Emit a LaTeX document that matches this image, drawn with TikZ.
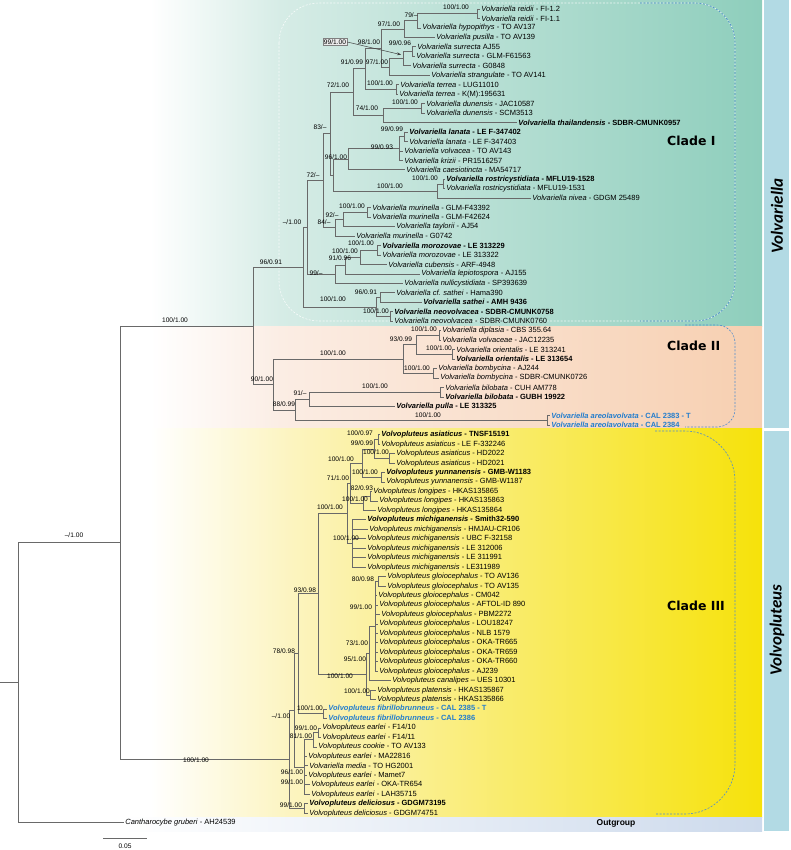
\documentclass[tikz,border=0pt]{standalone}
\usepackage{fontspec}
\setmainfont{Liberation Sans}
\newfontfamily\cladefont{DejaVu Sans}
\newfontfamily\colfont{Carlito}
\usetikzlibrary{calc,arrows.meta}
\definecolor{tealR}{RGB}{142,206,188}
\definecolor{tealL}{RGB}{214,236,230}
\definecolor{peachR}{RGB}{247,207,176}
\definecolor{peachL}{RGB}{251,237,228}
\definecolor{yelR}{RGB}{246,226,10}
\definecolor{yelL}{RGB}{252,244,192}
\definecolor{outR}{RGB}{205,218,236}
\definecolor{colbox}{RGB}{178,218,228}
\definecolor{treegray}{RGB}{105,105,105}
\definecolor{leafblue}{RGB}{35,125,205}
\definecolor{dashblue}{RGB}{80,140,205}
\tikzset{
 tl/.style={draw=treegray, line width=0.7pt},
 lfs/.style={anchor=west, inner sep=1.2pt, font=\fontsize{7.5}{8}\selectfont},
 sl/.style={inner sep=0pt, font=\fontsize{6.6}{7}\selectfont},
 dashb/.style={draw=dashblue, line width=0.6pt, dash pattern=on 2pt off 1.5pt},
 dashw/.style={draw=white, line width=0.6pt, dash pattern=on 2pt off 1.5pt, opacity=0.8},
 cladelab/.style={anchor=west, inner sep=0pt, font=\cladefont\bfseries\fontsize{12.5}{13}\selectfont},
 collab/.style={inner sep=0pt, rotate=90, font=\colfont\bfseries\itshape\fontsize{17}{18}\selectfont},
}
\newcommand{\leafx}[3]{\coordinate (t#1) at (#2,{9+(#1-1)*9.46}); \node[lfs] (L#1) at (t#1) {#3};}
\newcommand{\nd}[5]{%
 \path (#3) -- (#4) coordinate[pos=0.5] (#1-mid);
 \coordinate (#1-xx) at (#2,0);
 \coordinate (#1) at (#1-mid -| #1-xx);
 \draw[tl] (#1 |- #3) -- (#1 |- #4);
 \foreach \c in {#5} {\draw[tl] (#1 |- \c) -- (\c);}
}
\newcommand{\sv}[2]{\textit{#1} - #2}
\newcommand{\bsv}[2]{\textbf{\textit{#1} - #2}}
\newcommand{\usv}[2]{\textcolor{leafblue}{\textbf{\textit{#1} - #2}}}
\begin{document}
\begin{tikzpicture}[x=1pt,y=-1pt]
\useasboundingbox (0,0) rectangle (790,850);
% backgrounds
\shade[left color=white, right color=tealL] (150,0) rectangle (281,326);
\shade[left color=tealL, right color=tealR] (280,0) rectangle (762,326);
\shade[left color=white, right color=peachL] (150,326) rectangle (281,428);
\shade[left color=peachL, right color=peachR] (280,326) rectangle (762,428);
\shade[left color=white, right color=yelL] (150,428) rectangle (291,817);
\shade[left color=yelL, right color=yelR] (290,428) rectangle (762,817);
\shade[left color=white, right color=outR] (120,817) rectangle (762,831);
\fill[colbox] (764,0) rectangle (789,428);
\fill[colbox] (764,431) rectangle (789,831);
\node[collab] (cV) at (777,216) {Volvariella};
\node[collab] (cP) at (777,630) {Volvopluteus};
% clade boxes
\draw[dashw, rounded corners=40pt] (279,3) rectangle (735,321);
\draw[dashb, rounded corners=40pt] (640,3) -- (735,3) -- (735,321) -- (640,321);
\draw[dashb, rounded corners=18pt] (685,325) -- (735,325) -- (735,427) -- (685,427);
\draw[dashb, rounded corners=50pt] (655,431) -- (735,431) -- (735,814) -- (655,814);
\node[cladelab] (c1) at (667,141) {Clade I};
\node[cladelab] (c2) at (667,346) {Clade II};
\node[cladelab] (c3) at (667,606) {Clade III};
\node[anchor=center, inner sep=0pt, font=\bfseries\fontsize{8.5}{9}\selectfont] (og) at (616,823.5) {Outgroup};
% leaves
\leafx{1}{480}{\sv{Volvariella reidii}{FI-1.2}}
\leafx{2}{480}{\sv{Volvariella reidii}{FI-1.1}}
\leafx{3}{421}{\sv{Volvariella hypopithys}{TO AV137}}
\leafx{4}{435}{\sv{Volvariella pusilla}{TO AV139}}
\leafx{5}{416}{\textit{Volvariella surrecta} AJ55}
\leafx{6}{415}{\sv{Volvariella surrecta}{GLM-F61563}}
\leafx{7}{411}{\sv{Volvariella surrecta}{G0848}}
\leafx{8}{430}{\sv{Volvariella strangulate}{TO AV141}}
\leafx{9}{399}{\sv{Volvariella terrea}{LUG11010}}
\leafx{10}{398}{\sv{Volvariella terrea}{K(M):195631}}
\leafx{11}{425}{\sv{Volvariella dunensis}{JAC10587}}
\leafx{12}{425}{\sv{Volvariella dunensis}{SCM3513}}
\leafx{13}{517}{\bsv{Volvariella thailandensis}{SDBR-CMUNK0957}}
\leafx{14}{408}{\bsv{Volvariella lanata}{LE F-347402}}
\leafx{15}{408}{\sv{Volvariella lanata}{LE F-347403}}
\leafx{16}{403}{\sv{Volvariella volvacea}{TO AV143}}
\leafx{17}{403}{\sv{Volvariella krizii}{PR1516257}}
\leafx{18}{405}{\sv{Volvariella caesiotincta}{MA54717}}
\leafx{19}{445}{\bsv{Volvariella rostricystidiata}{MFLU19-1528}}
\leafx{20}{445}{\sv{Volvariella rostricystidiata}{MFLU19-1531}}
\leafx{21}{531}{\sv{Volvariella nivea}{GDGM 25489}}
\leafx{22}{371}{\sv{Volvariella murinella}{GLM-F43392}}
\leafx{23}{371}{\sv{Volvariella murinella}{GLM-F42624}}
\leafx{24}{395}{\sv{Volvariella taylorii}{AJ54}}
\leafx{25}{355}{\sv{Volvariella murinella}{G0742}}
\leafx{26}{381}{\bsv{Volvariella morozovae}{LE 313229}}
\leafx{27}{381}{\sv{Volvariella morozovae}{LE 313322}}
\leafx{28}{387}{\sv{Volvariella cubensis}{ARF-4948}}
\leafx{29}{420}{\sv{Volvariella lepiotospora}{AJ155}}
\leafx{30}{403}{\sv{Volvariella nullicystidiata}{SP393639}}
\leafx{31}{395}{\sv{Volvariella cf. sathei}{Hama390}}
\leafx{32}{422}{\bsv{Volvariella sathei}{AMH 9436}}
\leafx{33}{393}{\bsv{Volvariella neovolvacea}{SDBR-CMUNK0758}}
\leafx{34}{393}{\sv{Volvariella neovolvacea}{SDBR-CMUNK0760}}
\leafx{35}{441}{\sv{Volvariella diplasia}{CBS 355.64}}
\leafx{36}{441}{\sv{Volvariella volvaceae}{JAC12235}}
\leafx{37}{455}{\sv{Volvariella orientalis}{LE 313241}}
\leafx{38}{455}{\bsv{Volvariella orientalis}{LE 313654}}
\leafx{39}{437}{\sv{Volvariella bombycina}{AJ244}}
\leafx{40}{439}{\sv{Volvariella bombycina}{SDBR-CMUNK0726}}
\leafx{41}{444}{\sv{Volvariella bilobata}{CUH AM778}}
\leafx{42}{444}{\bsv{Volvariella bilobata}{GUBH 19922}}
\leafx{43}{395}{\bsv{Volvariella pulla}{LE 313325}}
\leafx{44}{550}{\usv{Volvariella areolavolvata}{CAL 2383 - T}}
\leafx{45}{550}{\usv{Volvariella areolavolvata}{CAL 2384}}
\leafx{46}{380}{\bsv{Volvopluteus asiaticus}{TNSF15191}}
\leafx{47}{380}{\sv{Volvopluteus asiaticus}{LE F-332246}}
\leafx{48}{395}{\sv{Volvopluteus asiaticus}{HD2022}}
\leafx{49}{395}{\sv{Volvopluteus asiaticus}{HD2021}}
\leafx{50}{385}{\bsv{Volvopluteus yunnanensis}{GMB-W1183}}
\leafx{51}{385}{\sv{Volvopluteus yunnanensis}{GMB-W1187}}
\leafx{52}{372}{\sv{Volvopluteus longipes}{HKAS135865}}
\leafx{53}{378}{\sv{Volvopluteus longipes}{HKAS135863}}
\leafx{54}{376}{\sv{Volvopluteus longipes}{HKAS135864}}
\leafx{55}{366}{\bsv{Volvopluteus michiganensis}{Smith32-590}}
\leafx{56}{368}{\sv{Volvopluteus michiganensis}{HMJAU-CR106}}
\leafx{57}{366}{\sv{Volvopluteus michiganensis}{UBC F-32158}}
\leafx{58}{366}{\sv{Volvopluteus michiganensis}{LE 312006}}
\leafx{59}{366}{\sv{Volvopluteus michiganensis}{LE 311991}}
\leafx{60}{366}{\sv{Volvopluteus michiganensis}{LE311989}}
\leafx{61}{386}{\sv{Volvopluteus gloiocephalus}{TO AV136}}
\leafx{62}{386}{\sv{Volvopluteus gloiocephalus}{TO AV135}}
\leafx{63}{377}{\sv{Volvopluteus gloiocephalus}{CM042}}
\leafx{64}{378}{\sv{Volvopluteus gloiocephalus}{AFTOL-ID 890}}
\leafx{65}{380}{\sv{Volvopluteus gloiocephalus}{PBM2272}}
\leafx{66}{378}{\sv{Volvopluteus gloiocephalus}{LOU18247}}
\leafx{67}{378}{\sv{Volvopluteus gloiocephalus}{NLB 1579}}
\leafx{68}{378}{\sv{Volvopluteus gloiocephalus}{OKA-TR665}}
\leafx{69}{378}{\sv{Volvopluteus gloiocephalus}{OKA-TR659}}
\leafx{70}{378}{\sv{Volvopluteus gloiocephalus}{OKA-TR660}}
\leafx{71}{378}{\sv{Volvopluteus gloiocephalus}{AJ239}}
\leafx{72}{391}{\textit{Volvopluteus canalipes} -- UES 10301}
\leafx{73}{376}{\sv{Volvopluteus platensis}{HKAS135867}}
\leafx{74}{376}{\sv{Volvopluteus platensis}{HKAS135866}}
\leafx{75}{327}{\usv{Volvopluteus fibrillobrunneus}{CAL 2385 - T}}
\leafx{76}{327}{\usv{Volvopluteus fibrillobrunneus}{CAL 2386}}
\leafx{77}{321}{\sv{Volvopluteus earlei}{F14/10}}
\leafx{78}{321}{\sv{Volvopluteus earlei}{F14/11}}
\leafx{79}{317}{\sv{Volvopluteus cookie}{TO AV133}}
\leafx{80}{307}{\sv{Volvopluteus earlei}{MA22816}}
\leafx{81}{308}{\sv{Volvariella media}{TO HG2001}}
\leafx{82}{307}{\sv{Volvopluteus earlei}{Mamet7}}
\leafx{83}{310}{\sv{Volvopluteus earlei}{OKA-TR654}}
\leafx{84}{310}{\sv{Volvopluteus earlei}{LAH35715}}
\leafx{85}{308}{\bsv{Volvopluteus deliciosus}{GDGM73195}}
\leafx{86}{308}{\sv{Volvopluteus deliciosus}{GDGM74751}}
\leafx{87}{124}{\sv{Cantharocybe gruberi}{AH24539}}
% internal nodes, Clade I
\nd{nR}{477}{t1}{t2}{t1,t2}
\nd{n79}{417}{nR}{t3}{nR,t3}
\nd{n97a}{404}{n79}{t4}{n79,t4}
\nd{n9996}{412}{t5}{t6}{t5,t6}
\nd{nSur}{403}{n9996}{t7}{n9996,t7}
\nd{n97b}{389}{nSur}{t8}{nSur,t8}
\nd{n98}{381}{n97a}{n97b}{n97a,n97b}
\nd{nTer}{396}{t9}{t10}{t9,t10}
\nd{n91}{365}{n98}{nTer}{n98,nTer}
\nd{nDun}{421}{t11}{t12}{t11,t12}
\nd{n74}{383}{nDun}{t13}{nDun,t13}
\nd{n72}{353}{n91}{n74}{n91,n74}
\nd{nLan}{404}{t14}{t15}{t14,t15}
\nd{n9993}{399}{nLan}{t17}{nLan,t16,t17}
\nd{n96}{348}{n9993}{t18}{n9993,t18}
\nd{nRp}{443}{t19}{t20}{t19,t20}
\nd{nRo}{437}{nRp}{t21}{nRp,t21}
\nd{nB}{333}{n96}{nRo}{n96,nRo}
\nd{n83}{330}{n72}{nB}{n72,nB}
\nd{nMur}{367}{t22}{t23}{t22,t23}
\nd{n92}{343}{nMur}{t24}{nMur,t24}
\nd{n84}{335}{n92}{t25}{n92,t25}
\nd{n72b}{323}{n83}{n84}{n83,n84}
\nd{nMo}{377}{t26}{t27}{t26,t27}
\nd{nMC}{360}{nMo}{t28}{nMo,t28}
\nd{n9196}{345}{nMC}{t29}{nMC,t29}
\nd{n99m}{335}{n9196}{t30}{n9196,t30}
\nd{nY}{307}{n72b}{n99m}{n72b,n99m}
\nd{nS96}{380}{t31}{t32}{t31,t32}
\nd{nNeo}{390}{t33}{t34}{t33,t34}
\nd{nSG}{376}{nS96}{nNeo}{nS96,nNeo}
\nd{nCI}{303}{nY}{nSG}{nY,nSG}
% Clade II
\nd{nDip}{439}{t35}{t36}{t35,t36}
\nd{nOri}{452}{t37}{t38}{t37,t38}
\nd{n93}{416}{nDip}{nOri}{nDip,nOri}
\nd{nBom}{433}{t39}{t40}{t39,t40}
\nd{nUp}{403}{n93}{nBom}{n93,nBom}
\nd{nBil}{440}{t41}{t42}{t41,t42}
\nd{n91b}{309}{nBil}{t43}{nBil,t43}
\nd{nAre}{547}{t44}{t45}{t44,t45}
\nd{n88}{295}{n91b}{nAre}{n91b,nAre}
\nd{n90}{273}{nUp}{n88}{nUp,n88}
\nd{nV}{253}{nCI}{n90}{nCI,n90}
% Clade III
\nd{nAs}{378}{t46}{t47}{t46,t47}
\nd{nHD}{389}{t48}{t49}{t48,t49}
\nd{n9999}{374}{nAs}{nHD}{nAs,nHD}
\nd{nYun}{381}{t50}{t51}{t50,t51}
\nd{nAY}{362}{n9999}{nYun}{n9999,nYun}
\nd{n82}{370}{t52}{t53}{t52,t53}
\nd{nLo}{363}{n82}{t54}{n82,t54}
\nd{n71}{350}{nAY}{nLo}{nAY,nLo}
\nd{nMi}{352}{t55}{t60}{t55,t56,t57,t58,t59,t60}
\nd{nAM}{347}{n71}{nMi}{n71,nMi}
\nd{n80}{378}{t61}{t62}{t61,t62}
\nd{nGl}{375}{n80}{t71}{n80,t63,t64,t65,t66,t67,t68,t69,t70,t71}
\nd{n73}{369}{nGl}{t72}{nGl,t72}
\nd{nPl}{370}{t73}{t74}{t73,t74}
\nd{nG}{366}{n73}{nPl}{n73,nPl}
\nd{n93c}{318}{nAM}{nG}{nAM,nG}
\nd{nFib}{323}{t75}{t76}{t75,t76}
\nd{n78}{298}{n93c}{nFib}{n93c,nFib}
\nd{nF14}{318}{t77}{t78}{t77,t78}
\nd{n81}{313}{nF14}{t79}{nF14,t79}
\nd{nE}{304}{n81}{t84}{n81,t80,t81,t82,t83,t84}
\nd{nA}{294}{n78}{nE}{n78,nE}
\nd{nDel}{304}{t85}{t86}{t85,t86}
\nd{nVP}{289}{nA}{nDel}{nA,nDel}
\nd{nIn}{120}{nV}{nVP}{nV,nVP}
\nd{nRoot}{18}{nIn}{t87}{nIn,t87}
\coordinate (rootstub) at (0,0);
\draw[tl] (nRoot) -- (nRoot -| rootstub);
% support values, Clade I
\node[sl] (s1) at (456,7) {100/1.00};
\node[sl] (s2) at (411,15) {79/--};
\node[sl] (s3) at (389,24) {97/1.00};
\node[sl, draw=gray, fill=gray!15, inner sep=1pt] (s4) at (335,42) {99/1.00};
\draw[treegray!60!black, line width=0.5pt, -{Stealth[length=4pt,width=3pt]}] (s4.east) -- ($(nSur)+(-2,-4)$);
\node[sl] (s5) at (369,42) {98/1.00};
\node[sl] (s6) at (400,43) {99/0.96};
\node[sl] (s7) at (352,62) {91/0.99};
\node[sl] (s8) at (377,62) {97/1.00};
\node[sl] (s9) at (380,83) {100/1.00};
\node[sl] (s10) at (338,85) {72/1.00};
\node[sl] (s11) at (405,102) {100/1.00};
\node[sl] (s12) at (367,108) {74/1.00};
\node[sl] (s13) at (320,127) {83/--};
\node[sl] (s14) at (392,129) {99/0.99};
\node[sl] (s15) at (382,147) {99/0.93};
\node[sl] (s16) at (336,157) {96/1.00};
\node[sl] (s17) at (313,175) {72/--};
\node[sl] (s18) at (425,178) {100/1.00};
\node[sl] (s19) at (390,186) {100/1.00};
\node[sl] (s20) at (352,206) {100/1.00};
\node[sl] (s21) at (332,215) {92/--};
\node[sl] (s22) at (324,222) {84/--};
\node[sl] (s23) at (292,222) {--/1.00};
\node[sl] (s24) at (361,243) {100/1.00};
\node[sl] (s25) at (345,251) {100/1.00};
\node[sl] (s26) at (340,258) {91/0.96};
\node[sl] (s27) at (316,273) {99/--};
\node[sl] (s28) at (366,292) {96/0.91};
\node[sl] (s29) at (333,299) {100/1.00};
\node[sl] (s30) at (376,311) {100/1.00};
\node[sl] (s31) at (271,262) {96/0.91};
% Clade II
\node[sl] (s32) at (424,329) {100/1.00};
\node[sl] (s33) at (401,339) {93/0.99};
\node[sl] (s34) at (439,348) {100/1.00};
\node[sl] (s35) at (417,368) {100/1.00};
\node[sl] (s36) at (333,353) {100/1.00};
\node[sl] (s37) at (262,379) {90/1.00};
\node[sl] (s38) at (300,393) {91/--};
\node[sl] (s39) at (375,386) {100/1.00};
\node[sl] (s40) at (284,404) {88/0.99};
\node[sl] (s41) at (428,415) {100/1.00};
% Clade III
\node[sl] (s42) at (360,433) {100/0.97};
\node[sl] (s43) at (362,443) {99/0.99};
\node[sl] (s44) at (376,452) {100/1.00};
\node[sl] (s45) at (341,459) {100/1.00};
\node[sl] (s46) at (365,472) {100/1.00};
\node[sl] (s47) at (338,478) {71/1.00};
\node[sl] (s48) at (362,488) {82/0.93};
\node[sl] (s49) at (355,499) {100/1.00};
\node[sl] (s50) at (330,507) {100/1.00};
\node[sl] (s51) at (346,538) {100/1.00};
\node[sl] (s52) at (363,579) {80/0.98};
\node[sl] (s53) at (305,590) {93/0.98};
\node[sl] (s54) at (361,607) {99/1.00};
\node[sl] (s55) at (357,643) {73/1.00};
\node[sl] (s56) at (355,659) {95/1.00};
\node[sl] (s57) at (340,676) {100/1.00};
\node[sl] (s58) at (357,691) {100/1.00};
\node[sl] (s59) at (284,651) {78/0.98};
\node[sl] (s60) at (310,708) {100/1.00};
\node[sl] (s61) at (281,716) {--/1.00};
\node[sl] (s62) at (306,728) {99/1.00};
\node[sl] (s63) at (301,736) {81/1.00};
\node[sl] (s64) at (292,772) {96/1.00};
\node[sl] (s65) at (292,782) {99/1.00};
\node[sl] (s66) at (291,805) {99/1.00};
\node[sl] (s67) at (196,760) {100/1.00};
\node[sl] (s68) at (74,535) {--/1.00};
\node[sl] (s69) at (175,320) {100/1.00};
% scale bar
\coordinate (sbA) at (103,838);
\coordinate (sbB) at (147,838);
\draw[tl] (sbA) -- (sbB);
\node[sl] (sbl) at (125,846) {0.05};
\end{tikzpicture}
\end{document}
